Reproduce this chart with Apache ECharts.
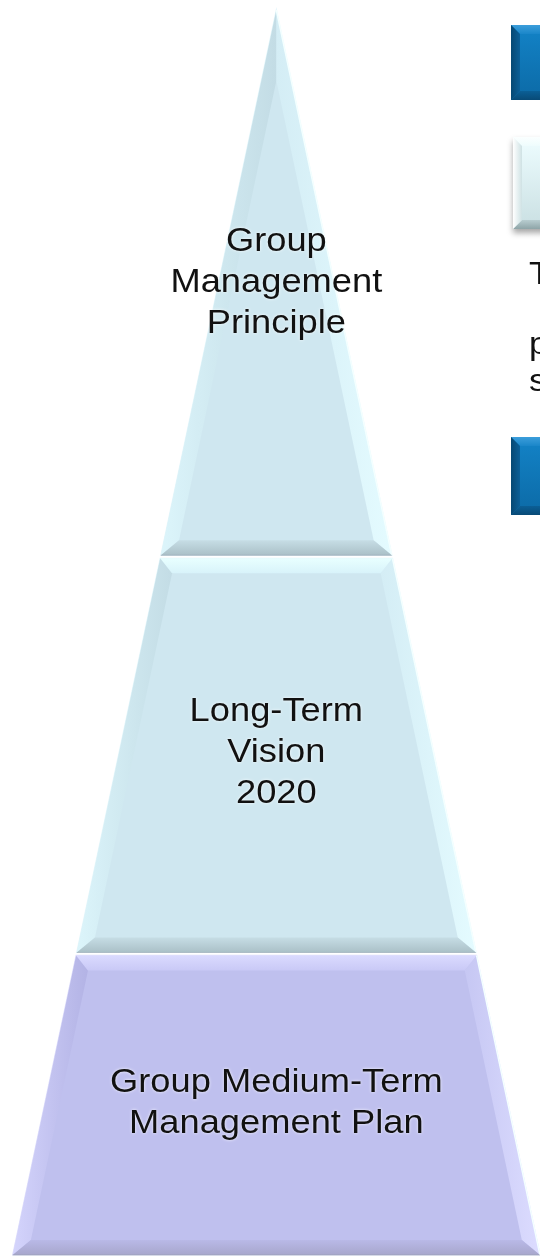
<!DOCTYPE html>
<html>
<head>
<meta charset="utf-8">
<script src="https://cdn.jsdelivr.net/npm/echarts@6/dist/echarts.min.js"></script>
<style>
  html, body { margin: 0; padding: 0; background: #ffffff; }
  #chart { width: 540px; height: 1257px; }
</style>
</head>
<body>
<div id="chart"></div>
<script>
// Pyramid tiers, from the apex down to the base
const tierNames = [
  'Group\nManagement\nPrinciple',
  'Long-Term\nVision\n2020',
  'Group Medium-Term\nManagement Plan'
];
// Tier boundaries as a share (%) of the pyramid height, measured from the apex
const tierBounds = [0, 43.8, 75.7, 100];
// Leading letters of the side panel text lines
const sideLetters = ['T', 'p', 's'];

// ---- styling -------------------------------------------------------------
const BLUE = {
  center: '#cfe7f0',
  top: ['#e8ffff', '#d8f3fa'],
  bottom: ['#c6dde5', '#aac0c7'],
  left: ['#dcf5fb', '#c3dce5'],
  right: ['#d4edf5', '#e4fbff'],
  edge: '#e2f5fa'
};
const LAVENDER = {
  center: '#bfc0ee',
  top: ['#dadaff', '#c9c9f6'],
  bottom: ['#b9b9e7', '#a7a6cc'],
  left: ['#d4d4fc', '#b3b3e5'],
  right: ['#c6c7f3', '#dcdcff'],
  edge: '#e0e0fb'
};
const tierStyle = [BLUE, BLUE, LAVENDER];
const FONT = '"Liberation Sans", Arial, Helvetica, sans-serif';

function grad(vertical, c) {
  return new echarts.graphic.LinearGradient(0, 0, vertical ? 0 : 1, vertical ? 1 : 0, [
    { offset: 0, color: c[0] }, { offset: 1, color: c[1] }
  ]);
}
function poly(points, fill, extra) {
  return Object.assign({ type: 'polygon', shape: { points: points }, style: { fill: fill } }, extra || {});
}

function renderTier(params, api) {
  const i = params.dataIndex;
  const s = api.value(0), e = api.value(1);
  const apex = api.coord([0, 0]);
  const base = api.coord([1, 100]);
  const cx = apex[0];
  const k = (base[0] - cx) / (base[1] - apex[1]);   // half-width per pixel of height
  const hw = y => (y - apex[1]) * k;
  const gap = i === 0 ? 0 : 3;
  const yT = api.coord([0, s])[1] + gap;
  const yB = api.coord([0, e])[1];
  const d = 15;                     // bevel depth
  const st = tierStyle[i];

  const TL = [cx - hw(yT), yT], TR = [cx + hw(yT), yT];
  const BL = [cx - hw(yB), yB], BR = [cx + hw(yB), yB];
  let TLi, TRi;
  if (i === 0) {
    const yi = apex[1] + d / k;
    TLi = [cx, yi]; TRi = [cx, yi];
  } else {
    TLi = [cx - hw(yT + d) + d, yT + d];
    TRi = [cx + hw(yT + d) - d, yT + d];
  }
  const BLi = [cx - hw(yB - d) + d, yB - d];
  const BRi = [cx + hw(yB - d) - d, yB - d];

  const children = [
    poly([TL, TR, BR, BL], st.center, { style: { fill: st.center, stroke: st.edge, lineWidth: 1.2 } }),
    poly([TLi, TRi, BRi, BLi], st.center),
    poly([TL, TLi, BLi, BL], grad(false, st.left)),
    poly([TRi, TR, BR, BRi], grad(false, st.right)),
    poly([BLi, BRi, BR, BL], grad(true, st.bottom))
  ];
  if (i !== 0) children.push(poly([TL, TR, TRi, TLi], grad(true, st.top)));
  // light rim along the outer edges
  children.push({ type: 'polyline', shape: { points: [TR, BR] }, style: { stroke: '#f4ffff', lineWidth: 1.5, fill: null } });
  children.push({ type: 'polyline', shape: { points: [BL, BR] }, style: { stroke: 'rgba(150,160,175,0.55)', lineWidth: 1, fill: null } });

  children.push({
    type: 'text',
    x: cx, y: (yT + yB) / 2 + (i === 0 ? 0 : -2),
    scaleX: 1.1,
    style: {
      text: tierNames[i],
      font: '33px ' + FONT,
      fill: '#111111',
      align: 'center',
      verticalAlign: 'middle',
      lineHeight: 41,
      textShadowColor: 'rgba(255,255,255,0.9)',
      textShadowBlur: 3
    }
  });
  return { type: 'group', children: children };
}

// Bevelled tile used by the side panel
function bevelBox(x, y, w, h, d, c, shadow) {
  const P = (a, b) => [x + a, y + b];
  return {
    type: 'group',
    children: [
      { type: 'rect', shape: { x: x, y: y, width: w, height: h },
        style: Object.assign({ fill: grad(true, c.center) }, shadow || {}) },
      poly([P(0, 0), P(w, 0), P(w - d, d), P(d, d)], grad(true, c.top)),
      poly([P(d, h - d), P(w - d, h - d), P(w, h), P(0, h)], grad(true, c.bottom)),
      poly([P(0, 0), P(d, d), P(d, h - d), P(0, h)], grad(false, c.left))
    ]
  };
}
const blueTile = {
  center: ['#1383c7', '#0c6aa6'],
  top: ['#3c9edb', '#1a86c9'],
  bottom: ['#0b5f96', '#084a76'],
  left: ['#064873', '#0b5f98']
};
const paleTile = {
  center: ['#eefdff', '#c9dfe2'],
  top: ['#fbffff', '#eefcfd'],
  bottom: ['#b8cdd0', '#8ea4a7'],
  left: ['#ffffff', '#cfe2e4']
};
function sideText(txt, y) {
  return { type: 'text', x: 529, y: y, scaleX: 1.1,
    style: { text: txt, font: '32px ' + FONT, fill: '#111', verticalAlign: 'middle' } };
}

const chart = echarts.init(document.getElementById('chart'), null, { renderer: 'canvas' });
chart.setOption({
  backgroundColor: '#ffffff',
  animation: false,
  grid: { left: 12.7, top: 10, width: 530, height: 1245 },
  xAxis: { type: 'value', min: -1, max: 1, show: false },
  yAxis: { type: 'value', min: 0, max: 100, inverse: true, show: false },
  series: [{
    type: 'custom',
    clip: false,
    renderItem: renderTier,
    data: tierNames.map((n, i) => [tierBounds[i], tierBounds[i + 1]])
  }],
  graphic: [
    bevelBox(511, 25, 60, 75, 9, blueTile),
    bevelBox(513, 137, 60, 92, 9, paleTile,
      { shadowColor: 'rgba(0,0,0,0.35)', shadowBlur: 6, shadowOffsetY: 4 }),
    bevelBox(511, 437, 60, 78, 9, blueTile),
    sideText(sideLetters[0], 275),
    sideText(sideLetters[1], 345),
    sideText(sideLetters[2], 382)
  ]
});
</script>
</body>
</html>
